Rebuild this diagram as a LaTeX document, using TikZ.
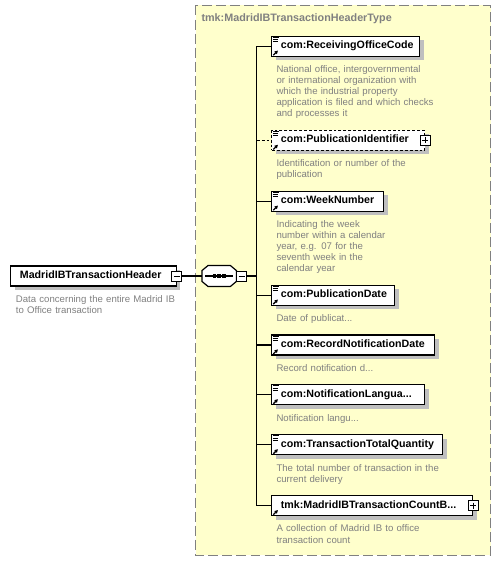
\documentclass[tikz,border=0pt]{standalone}
\usepackage{fontspec}
\setmainfont{Liberation Sans}
\usepackage{xcolor}
\usepackage{tikz}
\usetikzlibrary{shapes,arrows.meta,positioning,calc,shadows}

\definecolor{typefill}{RGB}{255,255,204}
\definecolor{typeline}{RGB}{128,128,128}
\definecolor{desctext}{RGB}{128,128,128}
\newlength\pxl
\setlength\pxl{0.03cm}

\tikzset{
  conn/.style={line width=0.9pt},
  elembox/.style={draw, fill=white, line width=1pt, anchor=west,
    minimum height=20\pxl, inner xsep=0pt, inner ysep=0pt, align=left,
    text height=6.4pt, text depth=2.1pt,
    font=\fontsize{9.1}{11}\selectfont\bfseries,
    execute at begin node={\hspace*{9\pxl}}},
  shadowed/.style={drop shadow={shadow xshift=4\pxl, shadow yshift=-4\pxl, fill=black!25, opacity=1}},
  optbox/.style={dash pattern=on 2.5pt off 1.7pt},
  togglebox/.style={draw, fill=white, line width=0.75pt, minimum size=10\pxl, inner sep=0pt},
  minusbox/.style={togglebox, path picture={
    \draw[line width=0.75pt] ([xshift=2\pxl]path picture bounding box.west) -- ([xshift=-2\pxl]path picture bounding box.east);}},
  plusbox/.style={togglebox, path picture={
    \draw[line width=0.75pt] ([xshift=2\pxl]path picture bounding box.west) -- ([xshift=-2\pxl]path picture bounding box.east)
      ([yshift=-2\pxl]path picture bounding box.north) -- ([yshift=2\pxl]path picture bounding box.south);}},
  seqbox/.style={minimum width=34\pxl, minimum height=20.4\pxl, inner sep=0pt},
  octagon/.style={line width=1pt},
  desc/.style={anchor=north west, inner sep=0pt, align=left, text width=190\pxl, text=desctext,
    font=\fontsize{8.2}{9.45}\selectfont},
  typebox/.style={draw=typeline, fill=typefill, line width=0.85pt, dash pattern=on 8.5pt off 3.5pt},
  typetitle/.style={inner sep=0pt, text=typeline, font=\fontsize{9.2}{11}\selectfont\bfseries},
  docicon/.pic={\draw[line width=0.75pt] (1.6,1.7) -- (7.4,1.7) (1.6,3.9) -- (6.6,3.9) (1.6,6.1) -- (6.6,6.1);},
  linkicon/.pic={\draw[line width=1.1pt, -{Triangle[length=2.8pt,width=3pt]}] (2,-1.6) -- (6.6,-6.2);}
}

\begin{document}
\begin{tikzpicture}[x=0.03cm, y=-0.03cm]
    \useasboundingbox (0,0) rectangle (501,562);

    % Complex type container
    \draw[typebox] (195.5,5.5) rectangle (490.7,555);
    \node[typetitle, anchor=base west] (typetitle) at (201.3,21.6) {tmk:MadridIBTransactionHeaderType};

    % Root element
    \node[elembox, shadowed, text width=165.4\pxl] (header) at (10.3,276) {MadridIBTransactionHeader};
    \node[minusbox] (headertoggle) at (header.east) {};
    \node[desc] (header-desc) at ([xshift=5.4\pxl, yshift=-8.5\pxl]header.south west)
        {Data concerning the entire Madrid IB\\to Office transaction};

    % Sequence compositor
    \node[seqbox] (seq) at (219.2,276) {};
    \fill[black!25, shift={(4,4)}] ([xshift=6\pxl]seq.north west) -- ([xshift=-6\pxl]seq.north east)
        -- ([yshift=-5\pxl]seq.north east) -- ([yshift=5\pxl]seq.south east)
        -- ([xshift=-6\pxl]seq.south east) -- ([xshift=6\pxl]seq.south west)
        -- ([yshift=5\pxl]seq.south west) -- ([yshift=-5\pxl]seq.north west) -- cycle;
    \filldraw[octagon, fill=white] ([xshift=6\pxl]seq.north west) -- ([xshift=-6\pxl]seq.north east)
        -- ([yshift=-5\pxl]seq.north east) -- ([yshift=5\pxl]seq.south east)
        -- ([xshift=-6\pxl]seq.south east) -- ([xshift=6\pxl]seq.south west)
        -- ([yshift=5\pxl]seq.south west) -- ([yshift=-5\pxl]seq.north west) -- cycle;
    \node[minusbox] (seqtoggle) at (241.7,276) {};
    \draw[conn] ([xshift=3.5\pxl]seq.west) -- ([xshift=-3.5\pxl]seq.east);
    \foreach \dx in {-4.6,0,4.6}
        \fill ([xshift=\dx\pxl]seq.center) +(-1.8,-1.6) rectangle +(1.8,1.6);
    \draw[conn] (headertoggle.east) -- (seq.west);
    \coordinate (spine) at (256.7,276);
    \draw[conn] (seqtoggle.east) -- (spine);

    % Child elements
    \foreach \nm/\y/\w/\txt in {receiving/46.2/148/{com:ReceivingOfficeCode},
                                weeknum/201.2/112/{com:WeekNumber},
                                pubdate/295.1/123/{com:PublicationDate},
                                recdate/345/163/{com:RecordNotificationDate},
                                notiflang/394.8/153/{com:NotificationLangua...},
                                totalqty/444.8/171/{com:TransactionTotalQuantity}} {
        \node[elembox, shadowed, text width=\w\pxl] (\nm) at (271.3,\y) {\txt};
    }
    \node[elembox, shadowed, optbox, text width=152.7\pxl] (pubident) at (271.3,140.4) {com:PublicationIdentifier};
    \node[plusbox] (pubidenttoggle) at (pubident.east) {};
    \node[elembox, shadowed, text width=201\pxl] (countbag) at (271.3,505.7) {tmk:MadridIBTransactionCountB...};
    \node[plusbox] (countbagtoggle) at (countbag.east) {};

    % Icons
    \foreach \nm in {receiving,pubident,weeknum,pubdate,recdate,notiflang,totalqty}
        \pic at (\nm.north west) {docicon};
    \foreach \nm in {receiving,pubident,weeknum,pubdate,recdate,notiflang,totalqty,countbag}
        \pic at (\nm.south west) {linkicon};

    % Connectors
    \draw[conn] (receiving.west -| spine) -- (countbag.west -| spine);
    \foreach \nm in {receiving,weeknum,pubdate,recdate,notiflang,totalqty,countbag}
        \draw[conn] (\nm.west -| spine) -- (\nm.west);
    \draw[conn, dash pattern=on 2.5pt off 1.7pt] (pubident.west -| spine) -- (pubident.west);

    % Descriptions
    \foreach \nm/\txt in {receiving/{National office, intergovernmental\\or international organization with\\which the industrial property\\application is filed and which checks\\and processes it},
                          pubident/{Identification or number of the\\publication},
                          weeknum/{Indicating the week\\number within a calendar\\year, e.g. 07 for the\\seventh week in the\\calendar year},
                          pubdate/{Date of publicat...},
                          recdate/{Record notification d...},
                          notiflang/{Notification langu...},
                          totalqty/{The total number of transaction in the\\current delivery},
                          countbag/{A collection of Madrid IB to office\\transaction count}}
        \node[desc] (\nm-desc) at ([xshift=5\pxl, yshift=-8.5\pxl]\nm.south west) {\txt};
\end{tikzpicture}
\end{document}
